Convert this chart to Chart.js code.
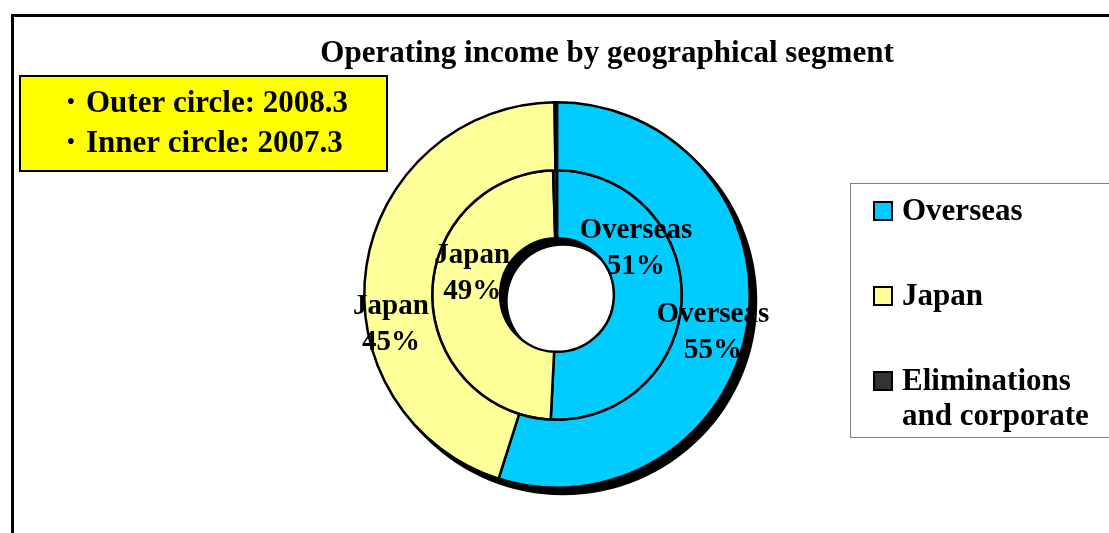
<!DOCTYPE html>
<html>
<head>
<meta charset="utf-8">
<script src="https://cdn.jsdelivr.net/npm/chart.js@4"></script>
<style>
  html, body { margin: 0; padding: 0; background: #fff; }
  #wrap { width: 1109px; height: 533px; position: relative; }
</style>
</head>
<body>
<div id="wrap"><canvas id="geoChart" width="1109" height="533"></canvas></div>
<script>
// segments and shares (%)
const segments = ['Overseas', 'Japan', 'Eliminations and corporate'];
const legendLines = [['Overseas'], ['Japan'], ['Eliminations', 'and corporate']];
const outer2008 = [54.9, 44.9, 0.2];   // outer circle: 2008.3
const inner2007 = [50.8, 48.7, 0.5];   // inner circle: 2007.3
const segmentColors = ['#00CCFF', '#FFFF99', '#333333'];
const noteLines = ['・Outer circle: 2008.3', '・Inner circle: 2007.3'];
const chartTitle = 'Operating income by geographical segment';

const SERIF = '"Liberation Serif", "Times New Roman", serif';

// frame, title, note box and legend box
const decorPlugin = {
  id: 'decor',
  beforeDraw(chart) {
    const ctx = chart.ctx;
    ctx.save();
    ctx.fillStyle = '#fff';
    ctx.fillRect(0, 0, chart.width, chart.height);
    ctx.strokeStyle = '#000';
    ctx.lineWidth = 3;
    ctx.strokeRect(12.5, 15.5, chart.width + 20, chart.height + 20);

    ctx.fillStyle = '#000';
    ctx.font = 'bold 31px ' + SERIF;
    ctx.textAlign = 'center';
    ctx.textBaseline = 'middle';
    ctx.fillText(chartTitle, 607, 54);

    // yellow note box
    ctx.fillStyle = '#FFFF00';
    ctx.fillRect(20, 76, 367, 95);
    ctx.lineWidth = 2;
    ctx.strokeStyle = '#000';
    ctx.strokeRect(20, 76, 367, 95);
    ctx.fillStyle = '#000';
    ctx.textAlign = 'left';
    ctx.font = 'bold 31px ' + SERIF;
    noteLines.forEach((t, i) => ctx.fillText(t, 55, 104 + i * 40));

    // legend box
    ctx.fillStyle = '#fff';
    ctx.fillRect(850, 183, 270, 254);
    ctx.strokeStyle = '#808080';
    ctx.lineWidth = 1;
    ctx.strokeRect(850.5, 183.5, 270, 254);
    legendLines.forEach((lines, i) => {
      const y = 211 + i * 85;
      ctx.fillStyle = segmentColors[i];
      ctx.fillRect(874, y - 9, 18, 18);
      ctx.strokeStyle = '#000';
      ctx.lineWidth = 2;
      ctx.strokeRect(874, y - 9, 18, 18);
      ctx.fillStyle = '#000';
      ctx.font = 'bold 31px ' + SERIF;
      lines.forEach((t, j) => ctx.fillText(t, 902, y + 1 + j * 35));
    });
    ctx.restore();
  },
  // shadow ring under the doughnut
  beforeDatasetsDraw(chart) {
    const outerArc = chart.getDatasetMeta(0).data[0];
    const innerArc = chart.getDatasetMeta(chart.data.datasets.length - 1).data[0];
    if (!outerArc || !innerArc) return;
    const ctx = chart.ctx;
    const dx = 6, dy = 6;
    ctx.save();
    ctx.fillStyle = '#000';
    ctx.beginPath();
    ctx.arc(outerArc.x + dx, outerArc.y + dy, outerArc.outerRadius + 1.5, 0, Math.PI * 2);
    ctx.arc(innerArc.x + dx, innerArc.y + dy, innerArc.innerRadius - 1.5, 0, Math.PI * 2, true);
    ctx.fill();
    ctx.restore();
  },
  afterDatasetsDraw(chart, args, opts) {
    const ctx = chart.ctx;
    ctx.save();
    ctx.fillStyle = '#000';
    ctx.font = 'bold 29px ' + SERIF;
    ctx.textAlign = 'center';
    ctx.textBaseline = 'middle';
    chart.data.datasets.forEach((ds, d) => {
      const meta = chart.getDatasetMeta(d);
      meta.data.forEach((arc, i) => {
        const nudge = opts.nudge[d][i];
        if (!nudge) return;
        const p = arc.getProps(['x', 'y', 'startAngle', 'endAngle', 'innerRadius', 'outerRadius'], true);
        const a = (p.startAngle + p.endAngle) / 2;
        const r = (p.innerRadius + p.outerRadius) / 2;
        const x = p.x + Math.cos(a) * r + nudge[0];
        const y = p.y + Math.sin(a) * r + nudge[1];
        ctx.fillText(segments[i], x, y - 18);
        ctx.fillText(Math.round(ds.data[i]) + '%', x, y + 18);
      });
    });
    ctx.restore();
  }
};

const ctx = document.getElementById('geoChart').getContext('2d');
const chart = new Chart(ctx, {
  type: 'doughnut',
  data: {
    labels: segments,
    datasets: [
      { label: '2008.3', data: outer2008, backgroundColor: segmentColors, borderColor: '#000', borderWidth: 2.5 },
      { label: '2007.3', data: inner2007, backgroundColor: segmentColors, borderColor: '#000', borderWidth: 2.5 }
    ]
  },
  options: {
    responsive: false,
    animation: false,
    cutout: '29.5%',
    layout: { padding: { left: 363, right: 358, top: 101, bottom: 44 } },
    plugins: {
      legend: { display: false },
      title: { display: false },
      tooltip: { enabled: false },
      decor: {
        nudge: [
          [[-1, 13], [-9, 53], null],
          [[-12, -49], [6, -21], null]
        ]
      }
    }
  },
  plugins: [decorPlugin]
});
</script>
</body>
</html>
